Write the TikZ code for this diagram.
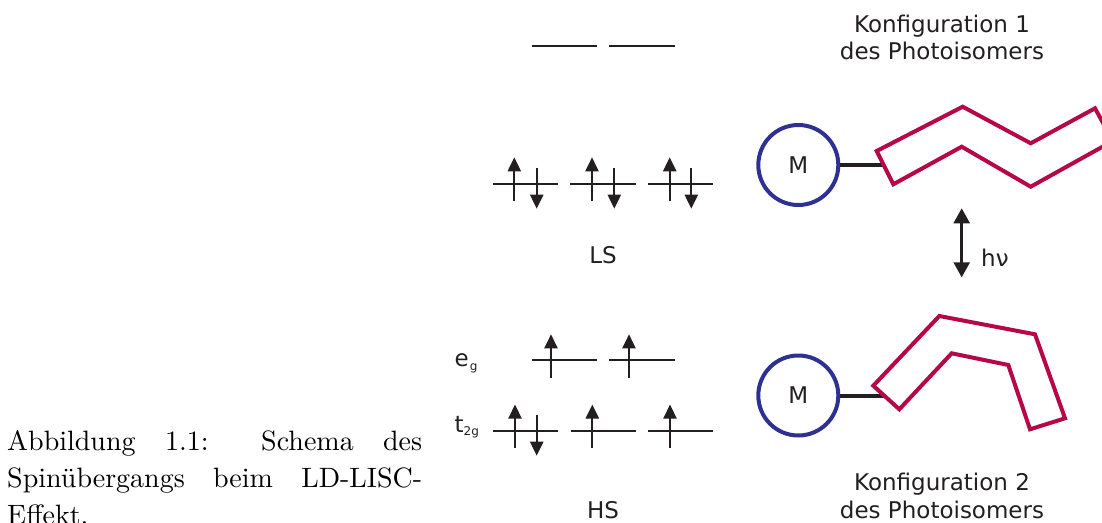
\documentclass[tikz,border=0pt]{standalone}
\usepackage{fontspec}
\newfontfamily\lblfont{DejaVu Sans}
\newfontfamily\capfont{lmroman10-regular}[Extension=.otf]
\usetikzlibrary{arrows.meta}
\definecolor{ink}{RGB}{35,31,32}
\definecolor{metalblue}{RGB}{46,49,146}
\definecolor{isored}{RGB}{182,8,72}
\tikzset{
  orbital/.style={draw=ink, line width=2.2pt},
  spinup/.style={draw=ink, line width=2.2pt, -{Triangle[length=14pt,width=13pt]}},
  spindown/.style={draw=ink, line width=2.2pt, -{Triangle[length=14pt,width=13pt]}},
  metal/.style={circle, draw=metalblue, line width=4pt, minimum size=80pt, inner sep=0pt,
    text=ink, font=\lblfont\fontsize{23}{27}\selectfont},
  bond/.style={draw=ink, line width=4pt},
  isomer/.style={draw=isored, line width=4pt, line join=miter},
  lbl/.style={inner sep=0pt, text=ink, font=\lblfont\fontsize{23}{27}\selectfont},
  photo/.style={draw=ink, line width=2.5pt, {Triangle[length=15pt,width=16pt]}-{Triangle[length=15pt,width=16pt]}},
}
\newcommand{\lowsub}[2]{{\fontsize{12}{13}\selectfont\raisebox{-#1}{#2}}}
\begin{document}
\begin{tikzpicture}[x=1pt, y=-1pt]
\useasboundingbox (0,0) rectangle (1102,522);

% ---------- empty e_g levels (low spin) ----------
\coordinate (eA1) at (531.7,45.7); \coordinate (eA2) at (597,45.7);
\coordinate (eB1) at (609,45.7);   \coordinate (eB2) at (675,45.7);
\draw[orbital] (eA1) -- (eA2);
\draw[orbital] (eB1) -- (eB2);

% ---------- t_2g levels (low spin), each doubly occupied ----------
\foreach \a/\b/\u/\d [count=\i] in {493/558/514.3/536.7, 570/636/592/614.3, 648/713/669.7/691.3}{
  \coordinate (ls\i L) at (\a,184);
  \coordinate (ls\i R) at (\b,184);
  \draw[orbital] (ls\i L) -- (ls\i R);
  \coordinate (ls\i uS) at (\u,201); \coordinate (ls\i uE) at (\u,157.3);
  \coordinate (ls\i dS) at (\d,167.7); \coordinate (ls\i dE) at (\d,208.7);
  \draw[spinup] (ls\i uS) -- (ls\i uE);
  \draw[spindown] (ls\i dS) -- (ls\i dE);
}
\node[lbl] (ls) at (603,255) {LS};

% ---------- e_g levels (high spin) ----------
\foreach \a/\b/\u [count=\i] in {532/597/551, 609.3/674.7/629}{
  \coordinate (hse\i L) at (\a,360.3);
  \coordinate (hse\i R) at (\b,360.3);
  \draw[orbital] (hse\i L) -- (hse\i R);
  \coordinate (hse\i uS) at (\u,377.7); \coordinate (hse\i uE) at (\u,334.3);
  \draw[spinup] (hse\i uS) -- (hse\i uE);
}

% ---------- t_2g levels (high spin) ----------
\foreach \a/\b/\u [count=\i] in {493.3/558.3/515, 570.7/635.7/592.3, 648.3/713.3/670}{
  \coordinate (hst\i L) at (\a,431);
  \coordinate (hst\i R) at (\b,431);
  \draw[orbital] (hst\i L) -- (hst\i R);
  \coordinate (hst\i uS) at (\u,448); \coordinate (hst\i uE) at (\u,404.5);
  \draw[spinup] (hst\i uS) -- (hst\i uE);
}
\coordinate (hst1dS) at (536.7,414.7); \coordinate (hst1dE) at (536.7,455.7);
\draw[spindown] (hst1dS) -- (hst1dE);

\node[lbl, anchor=base west] (eg)  at (454.5,366) {e\kern1pt\lowsub{4.5pt}{g}};
\node[lbl, anchor=base west] (t2g) at (454.5,432) {t\lowsub{3.5pt}{2g}};
\node[lbl] (hs) at (603,510) {HS};

% ---------- configuration 1: metal centre with stretched photoisomer ----------
\node[metal] (m1) at (798.3,165) {M};
\coordinate (p1att) at (885,165);
\draw[bond] (m1.east) -- (p1att);
\draw[isomer] (876.7,151) -- (962.7,106.7) -- (1030.7,143.3) -- (1095,108.3)
  -- (1112.8,141) -- (1030.7,186.7) -- (961.7,146.7) -- (893.3,184.3) -- cycle;
\node[lbl, anchor=base] (c1a) at (942,32) {Konfiguration 1};
\node[lbl, anchor=base] (c1b) at (942,59.3) {des Photoisomers};

% ---------- photoisomerisation ----------
\coordinate (hvTop) at (961.7,208.3);
\coordinate (hvBot) at (961.7,277.3);
\draw[photo] (hvTop) -- (hvBot);
\node[lbl, anchor=base west] (hv) at (981,266.7) {hν};

% ---------- configuration 2: metal centre with bent photoisomer ----------
\node[metal] (m2) at (798.3,395.5) {M};
\coordinate (p2att) at (886,395.5);
\draw[bond] (m2.east) -- (p2att);
\draw[isomer] (873.3,385.7) -- (939.3,316) -- (1035,334.3) -- (1065,418.3)
  -- (1030,429.3) -- (1008.3,365) -- (951.7,353.3) -- (899.3,409.3) -- cycle;
\node[lbl, anchor=base] (c2a) at (942,490.7) {Konfiguration 2};
\node[lbl, anchor=base] (c2b) at (942,518.3) {des Photoisomers};

% ---------- figure caption ----------
\node[anchor=base west, inner sep=0pt, text width=415pt, align=justify,
      font=\capfont\fontsize{28}{37}\selectfont] (cap) at (7,450)
  {Abbildung 1.1: Schema des\linebreak Spinübergangs beim LD-LISC-\linebreak Effekt.};
\end{tikzpicture}
\end{document}
